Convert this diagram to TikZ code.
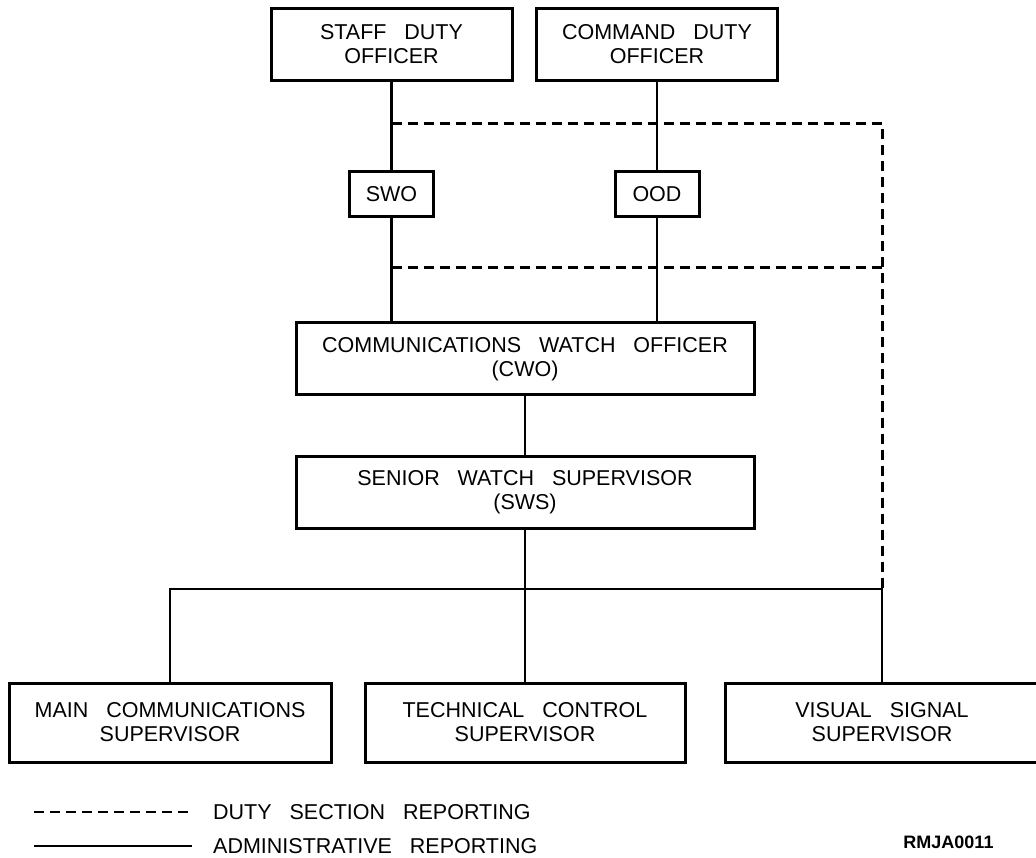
\documentclass[tikz,border=0pt]{standalone}
\usepackage{fontspec}
\setmainfont{Liberation Sans}[WordSpace=3]
\begin{document}
\begin{tikzpicture}[x=1pt,y=-1pt,
  box/.style={draw,line width=3pt,align=center,inner sep=0pt,
    font=\fontsize{21.5}{24}\selectfont},
  link/.style={line width=2.6pt},
  duty/.style={line width=3pt,dash pattern=on 10pt off 6pt},
  legtext/.style={anchor=west,inner sep=0pt,font=\fontsize{21.5}{24}\selectfont}]
\useasboundingbox (0,0) rectangle (1036,858);
% boxes
\node[box,minimum width=241,minimum height=72] (sdo) at (391.5,44.5) {STAFF DUTY\\OFFICER};
\node[box,minimum width=241,minimum height=72] (cdo) at (657,44.5) {COMMAND DUTY\\OFFICER};
\node[box,minimum width=84,minimum height=45] (swo) at (391.5,194.5) {SWO};
\node[box,minimum width=84,minimum height=45] (ood) at (657,194.5) {OOD};
\node[box,minimum width=458,minimum height=72] (cwo) at (525,359) {COMMUNICATIONS WATCH OFFICER\\(CWO)};
\node[box,minimum width=458,minimum height=72] (sws) at (525,492) {SENIOR WATCH SUPERVISOR\\(SWS)};
\node[box,minimum width=322,minimum height=79] (main) at (170,722.5) {MAIN COMMUNICATIONS\\SUPERVISOR};
\node[box,minimum width=320,minimum height=79] (tech) at (525,722.5) {TECHNICAL CONTROL\\SUPERVISOR};
\node[box,minimum width=314,minimum height=79] (vis) at (882,722.5) {VISUAL SIGNAL\\SUPERVISOR};
% administrative links
\draw[link] (sdo.south) -- (swo.north);
\draw[link] (swo.south) -- (cwo.north -| swo.south);
\draw[link] (cdo.south) -- (ood.north);
\draw[link] (ood.south) -- (cwo.north -| ood.south);
\draw[link] (cwo.south) -- (sws.north);
\coordinate (busL) at (170,589);
\coordinate (busR) at (882,589);
\draw[link] (main.north) -- (busL) -- (busR) -- (vis.north);
\draw[link] (sws.south) -- (tech.north);
% duty section links
\coordinate (d1L) at (391.5,124);
\coordinate (d1R) at (882,124);
\coordinate (d2L) at (391.5,268);
\coordinate (d2R) at (882,268);
\draw[duty] (d1L) -- (d1R) -- (busR);
\draw[duty] (d2L) -- (d2R);
% legend
\coordinate (la) at (34,812);
\coordinate (lb) at (192,812);
\coordinate (lc) at (34,846);
\coordinate (ld) at (192,846);
\draw[duty,line width=2.4pt] (la) -- (lb);
\draw[link,line width=2.4pt] (lc) -- (ld);
\node[legtext] (lt1) at (213,812) {DUTY SECTION REPORTING};
\node[legtext] (lt2) at (213,846) {ADMINISTRATIVE REPORTING};
\node[anchor=base,inner sep=0pt,font=\bfseries\fontsize{18}{20}\selectfont] (code) at (948.5,848) {RMJA0011};
\end{tikzpicture}
\end{document}
